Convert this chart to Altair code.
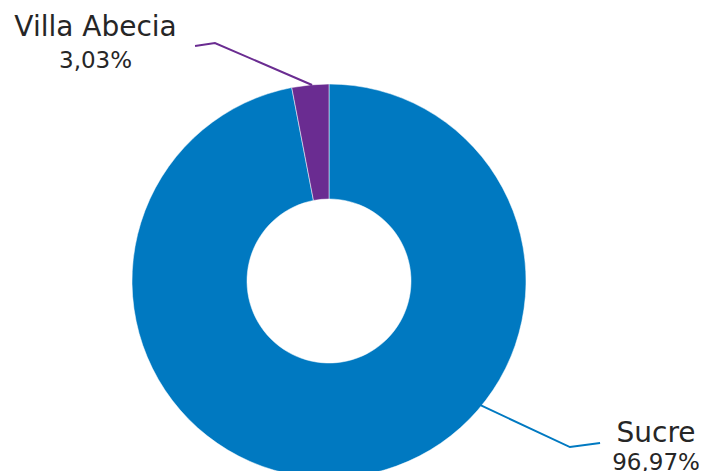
import altair as alt
import pandas as pd

# Data
categories = ["Sucre", "Villa Abecia"]
values = [96.97, 3.03]
pct_labels = ["96,97%", "3,03%"]
colors = ["#0079C1", "#6A2C91"]

# Leader lines (in units of the outer radius, centre of donut = 0,0)
leader_cat = ["Sucre", "Sucre", "Sucre", "Villa Abecia", "Villa Abecia", "Villa Abecia"]
leader_x = [0.766, 1.223, 1.376, -0.086, -0.579, -0.680]
leader_y = [-0.629, -0.843, -0.822, 0.995, 1.208, 1.193]
leader_ord = [0, 1, 2, 0, 1, 2]

# Label anchors (same units)
label_x = [1.66, -1.185]
name_y = [-0.817, 1.244]
pct_y = [-0.959, 1.081]

W, H = 691, 463
R = 197.0
cx_pix, cy_pix = 329 - 8, 281 - 8
xdom = [-cx_pix / R, (W - cx_pix) / R]
ydom = [-(H - cy_pix) / R, cy_pix / R]

xs = alt.Scale(domain=xdom, nice=False, zero=False)
ys = alt.Scale(domain=ydom, nice=False, zero=False)
cs = alt.Scale(domain=categories, range=colors)

pie_df = pd.DataFrame({"cat": categories, "val": values, "idx": [0, 1]})
lead_df = pd.DataFrame({"cat": leader_cat, "x": leader_x, "y": leader_y, "o": leader_ord})
lab_df = pd.DataFrame({"cat": categories, "x": label_x, "ny": name_y, "py": pct_y, "pct": pct_labels})

arc = alt.Chart(pie_df).mark_arc(outerRadius=197, innerRadius=82, stroke="white", strokeWidth=0.5).encode(
    theta=alt.Theta("val:Q", stack=True),
    order=alt.Order("idx:Q"),
    color=alt.Color("cat:N", scale=cs, legend=None),
    x=alt.X(datum=0, scale=xs, axis=None),
    y=alt.Y(datum=0, scale=ys, axis=None),
)

lines = alt.Chart(lead_df).mark_line(strokeWidth=2).encode(
    x=alt.X("x:Q", scale=xs, axis=None),
    y=alt.Y("y:Q", scale=ys, axis=None),
    color=alt.Color("cat:N", scale=cs, legend=None),
    order=alt.Order("o:Q"),
    detail="cat:N",
)

names = alt.Chart(lab_df).mark_text(font="DejaVu Sans", fontSize=28, color="#262626", align="center", baseline="alphabetic").encode(
    x=alt.X("x:Q", scale=xs, axis=None),
    y=alt.Y("ny:Q", scale=ys, axis=None),
    text="cat:N",
)

pcts = alt.Chart(lab_df).mark_text(font="DejaVu Sans", fontSize=23, color="#262626", align="center", baseline="alphabetic").encode(
    x=alt.X("x:Q", scale=xs, axis=None),
    y=alt.Y("py:Q", scale=ys, axis=None),
    text="pct:N",
)

chart = alt.layer(arc, lines, names, pcts).properties(
    width=W, height=H, autosize="none", padding=0
).configure_view(stroke=None)

chart.save("out.html", embed_options={"renderer": "svg", "actions": False})
